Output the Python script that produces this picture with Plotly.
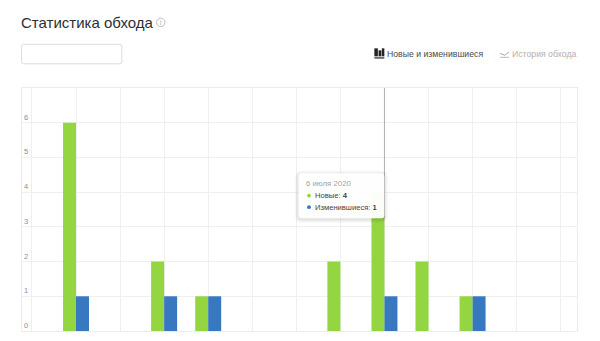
import plotly.graph_objects as go

days = ["28 июня 2020", "29 июня 2020", "30 июня 2020", "1 июля 2020", "2 июля 2020",
        "3 июля 2020", "4 июля 2020", "5 июля 2020", "6 июля 2020", "7 июля 2020",
        "8 июля 2020", "9 июля 2020", "10 июля 2020"]
new_pages = [0, 6, 0, 2, 1, 0, 0, 2, 4, 2, 1, 0, 0]
changed_pages = [0, 1, 0, 1, 1, 0, 0, 0, 1, 0, 1, 0, 0]
y_ticks = [0, 1, 2, 3, 4, 5, 6]
active_day = "6 июля 2020"
FONT = "Liberation Sans, Arial, sans-serif"
OFF = 8  # the page's own body margin
W, H = 600 - OFF, 341 - OFF
L, R, T, B = 21.5, 577.5, 87.7, 331

def px(x): return (x - 0.5 - L + 0.5) / (R - L)
def py(y): return (B - y) / (B - T)

def rr(x0, y0, x1, y1, r):
    a, b, c, d = px(x0), px(x1), py(y0), py(y1)
    rx, ry = r / (R - L), r / (B - T)
    return (f"M{a+rx},{c} L{b-rx},{c} Q{b},{c} {b},{c-ry} L{b},{d+ry} Q{b},{d} {b-rx},{d} "
            f"L{a+rx},{d} Q{a},{d} {a},{d+ry} L{a},{c-ry} Q{a},{c} {a+rx},{c} Z")

shapes, ann = [], []
def path(d, fill="rgba(0,0,0,0)", line=None, lw=1, layer="above"):
    shapes.append(dict(type="path", path=d, xref="paper", yref="paper", fillcolor=fill,
                       line=dict(color=line or "rgba(0,0,0,0)", width=lw if line else 0), layer=layer))
def rect(x0, y0, x1, y1, fill, line=None, lw=1):
    shapes.append(dict(type="rect", xref="paper", yref="paper", x0=px(x0), x1=px(x1), y0=py(y1), y1=py(y0),
                       fillcolor=fill, line=dict(color=line or "rgba(0,0,0,0)", width=lw if line else 0), layer="above"))
def text(x, y, s, size, color, anchor="left"):
    ann.append(dict(xref="paper", yref="paper", x=px(x), y=py(y), text=s, showarrow=False, xanchor=anchor,
                    yanchor="middle", xshift=-2 if anchor == "left" else 0,
                    font=dict(family=FONT, size=size, color=color)))
def circle(cx, cy, r, fill, line=None, lw=1):
    shapes.append(dict(type="circle", xref="paper", yref="paper", x0=px(cx-r), x1=px(cx+r), y0=py(cy+r), y1=py(cy-r),
                       fillcolor=fill, line=dict(color=line or "rgba(0,0,0,0)", width=lw if line else 0), layer="above"))

# header
text(20, 22, "Статистика обхода", 15, "#2b2f36")
circle(160.5, 22, 4.2, "rgba(0,0,0,0)", "#bdbdbd", 1)
text(160.5, 22, "i", 6.5, "#a8a8a8", "center")
path(rr(21, 44, 121.5, 63.5, 2), "#ffffff", "#dcdcdc", 1)

# switch icons and labels
rect(374.5, 48, 378, 56, "#222222"); rect(378.7, 50, 381.5, 56, "#222222"); rect(382, 48, 384.5, 56, "#222222")
rect(374.5, 57, 384.5, 58.2, "#222222")
text(387, 53.5, "Новые и изменившиеся", 8.7, "#4a4a4a")
path(f"M{px(500.5)},{py(53)} L{px(505)},{py(55)} L{px(509.5)},{py(51.5)}", line="#a8a8a8", lw=1)
rect(500.5, 56.5, 509.5, 57.3, "#a8a8a8")
text(512.5, 53.5, "История обхода", 8.7, "#b0b0b0")

# y labels, sitting inside the plot above each gridline
for v in y_ticks:
    ann.append(dict(xref="paper", yref="y", x=px(26), y=v, yshift=5.5, text=str(v), showarrow=False,
                    xanchor="center", yanchor="middle", font=dict(family=FONT, size=7.5, color="#8a8f96")))

# crosshair
shapes.append(dict(type="line", xref="x", yref="paper", x0=active_day, x1=active_day, y0=py(218), y1=1,
                   line=dict(color="#b0b0b0", width=1), layer="above"))

# tooltip with soft shadow
for g, a in [(4, .015), (3, .025), (2, .03), (1, .04)]:
    path(rr(298.5-g, 173-g+1, 384.5+g, 218+g+1, 3+g), f"rgba(0,0,0,{a})")
path(rr(298.5, 173, 384.5, 218, 3), "rgba(255,255,255,0.97)")
text(306, 183, active_day, 7.8, "#a0a4aa")
circle(309, 195.5, 1.9, "#93d641")
text(315, 195.5, "Новые: <b>4</b>", 7.6, "#444444")
circle(309, 207, 1.9, "#3878c0")
text(315, 207, "Изменившиеся: <b>1</b>", 7.6, "#444444")

fig = go.Figure()
fig.add_bar(x=days, y=new_pages, name="Новые", marker=dict(color="#93d641", line=dict(width=0)))
fig.add_bar(x=days, y=changed_pages, name="Изменившиеся", marker=dict(color="#3878c0", line=dict(width=0)))
fig.update_layout(
    width=W, height=H, autosize=False, barmode="group", bargap=0.41, bargroupgap=0,
    margin=dict(l=L-OFF, r=W-(R-OFF), t=T-OFF, b=H-(B-OFF), pad=0), paper_bgcolor="#ffffff", plot_bgcolor="#ffffff",
    showlegend=False, shapes=shapes, annotations=ann, hovermode=False,
    xaxis=dict(type="category", categoryorder="array", categoryarray=days, range=[-0.226, 12.37],
               showticklabels=False, ticks="", showgrid=True, gridcolor="#efefef", gridwidth=1,
               showline=True, mirror=True, linecolor="#ececec", linewidth=1, zeroline=False),
    yaxis=dict(range=[0, 7], tickvals=y_ticks, showticklabels=False, ticks="", showgrid=True,
               gridcolor="#efefef", gridwidth=1, showline=True, mirror=True, linecolor="#ececec",
               linewidth=1, zeroline=False),
)
fig.write_html("out.html", config=dict(displayModeBar=False))
